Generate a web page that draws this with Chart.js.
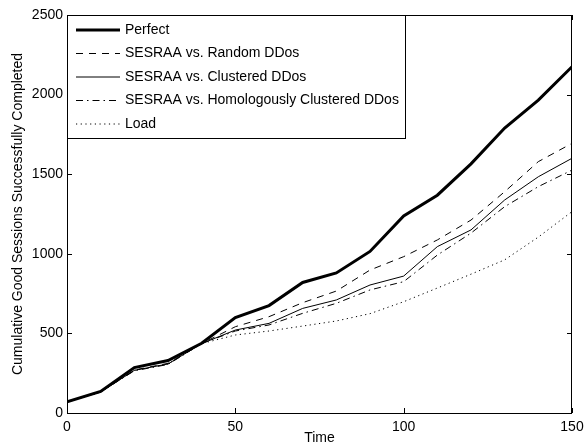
<!DOCTYPE html>
<html lang="en">
<head>
    <meta charset="UTF-8">
    <title>Cumulative Good Sessions</title>
    <script src="https://cdn.jsdelivr.net/npm/chart.js"></script>
    <style>
        body { margin: 0; background: #fff; }
    </style>
</head>
<body>
    <canvas id="sessionsChart" width="585" height="447"></canvas>
    <script>
        var times = [0, 10, 20, 30, 40, 50, 60, 70, 80, 90, 100, 110, 120, 130, 140, 150]
        var perfect   = [70, 135, 285, 330, 438, 600, 675, 820, 880, 1015, 1238, 1368, 1565, 1790, 1965, 2175]
        var randomDd  = [70, 132, 270, 312, 436, 542, 605, 693, 766, 898, 982, 1087, 1212, 1390, 1579, 1694]
        var clustered = [70, 132, 268, 308, 436, 521, 563, 657, 710, 804, 860, 1045, 1150, 1338, 1484, 1600]
        var homolog   = [70, 132, 265, 305, 436, 515, 553, 626, 689, 773, 825, 992, 1130, 1296, 1422, 1526]
        var load      = [70, 132, 268, 308, 436, 490, 515, 546, 578, 624, 699, 785, 872, 962, 1105, 1265]
        var xTicks = [0, 50, 100, 150]
        var yTicks = [0, 500, 1000, 1500, 2000, 2500]

        var font = 'Liberation Sans, Arial, sans-serif'

        function pts(arr) {
            return arr.map(function (v, i) { return { x: times[i], y: v } })
        }

        function ds(label, arr, width, dash) {
            return {
                label: label,
                data: pts(arr),
                borderColor: '#000',
                borderWidth: width,
                borderDash: dash,
                pointRadius: 0,
                fill: false,
                tension: 0
            }
        }

        // box, inward ticks and the framed legend, like a matlab figure
        var framePlugin = {
            id: 'frame',
            afterDatasetsDraw: function (chart) {
                var ctx = chart.ctx
                var a = chart.chartArea
                var xs = chart.scales.x, ys = chart.scales.y
                ctx.save()
                ctx.strokeStyle = '#000'
                ctx.lineWidth = 1
                ctx.setLineDash([])
                ctx.strokeRect(a.left + 0.5, a.top + 0.5, a.right - a.left - 1, a.bottom - a.top)
                ctx.beginPath()
                xTicks.forEach(function (t) {
                    var px = Math.round(xs.getPixelForValue(t)) + 0.5
                    ctx.moveTo(px, a.bottom); ctx.lineTo(px, a.bottom - 5)
                    ctx.moveTo(px, a.top); ctx.lineTo(px, a.top + 5)
                })
                yTicks.forEach(function (t) {
                    var py = Math.round(ys.getPixelForValue(t)) + 0.5
                    ctx.moveTo(a.left, py); ctx.lineTo(a.left + 5, py)
                    ctx.moveTo(a.right, py); ctx.lineTo(a.right - 5, py)
                })
                ctx.stroke()

                // legend
                var lx = a.left, ly = a.top, lw = 338, lh = 123
                ctx.fillStyle = '#fff'
                ctx.fillRect(lx, ly, lw, lh)
                ctx.strokeRect(lx + 0.5, ly + 0.5, lw, lh)
                ctx.font = '14px ' + font
                ctx.textBaseline = 'middle'
                chart.data.datasets.forEach(function (d, i) {
                    var y = ly + 15 + i * 23.5
                    ctx.beginPath()
                    ctx.lineWidth = d.borderWidth
                    ctx.setLineDash(d.borderDash || [])
                    ctx.moveTo(lx + 9, y); ctx.lineTo(lx + 53, y)
                    ctx.stroke()
                    ctx.setLineDash([])
                    ctx.fillStyle = '#000'
                    ctx.fillText(d.label, lx + 58, y)
                })
                ctx.restore()
            }
        }

        const ctx = document.getElementById('sessionsChart').getContext('2d')

        const sessionsChart = new Chart(ctx, {
            type: 'line',
            data: {
                datasets: [
                    ds('Perfect', perfect, 3, []),
                    ds('SESRAA vs. Random DDos', randomDd, 1, [7, 6]),
                    ds('SESRAA vs. Clustered DDos', clustered, 1, []),
                    ds('SESRAA vs. Homologously Clustered DDos', homolog, 1, [7, 4, 1.5, 4]),
                    ds('Load', load, 1, [1.2, 3.5])
                ]
            },
            options: {
                responsive: false,
                animation: false,
                layout: { padding: { top: 15, right: 13, left: 0, bottom: 0 } },
                plugins: { legend: { display: false }, tooltip: { enabled: false } },
                scales: {
                    x: {
                        type: 'linear',
                        min: 0, max: 150,
                        afterBuildTicks: function (s) { s.ticks = xTicks.map(function (v) { return { value: v } }) },
                        afterFit: function (s) { s.height = 34; s.paddingLeft = 0; s.paddingRight = 0 },
                        grid: { display: false, drawTicks: false },
                        border: { display: false },
                        ticks: { color: '#000', font: { family: font, size: 14 }, padding: 6, maxRotation: 0,
                                 callback: function (v) { return String(v) } },
                        title: { display: true, text: 'Time', color: '#000', font: { family: font, size: 14 }, padding: { top: 0, bottom: 0 } }
                    },
                    y: {
                        min: 0, max: 2500,
                        afterBuildTicks: function (s) { s.ticks = yTicks.map(function (v) { return { value: v } }) },
                        afterFit: function (s) { s.width = 67; s.paddingTop = 0; s.paddingBottom = 0 },
                        grid: { display: false, drawTicks: false },
                        border: { display: false },
                        ticks: { color: '#000', font: { family: font, size: 14 }, padding: 4,
                                 callback: function (v) { return String(v) } },
                        title: { display: true, text: 'Cumulative Good Sessions Successfully Completed', color: '#000', font: { family: font, size: 14 }, padding: { top: 10, bottom: 0 } }
                    }
                }
            },
            plugins: [framePlugin]
        })
    </script>
</body>
</html>
